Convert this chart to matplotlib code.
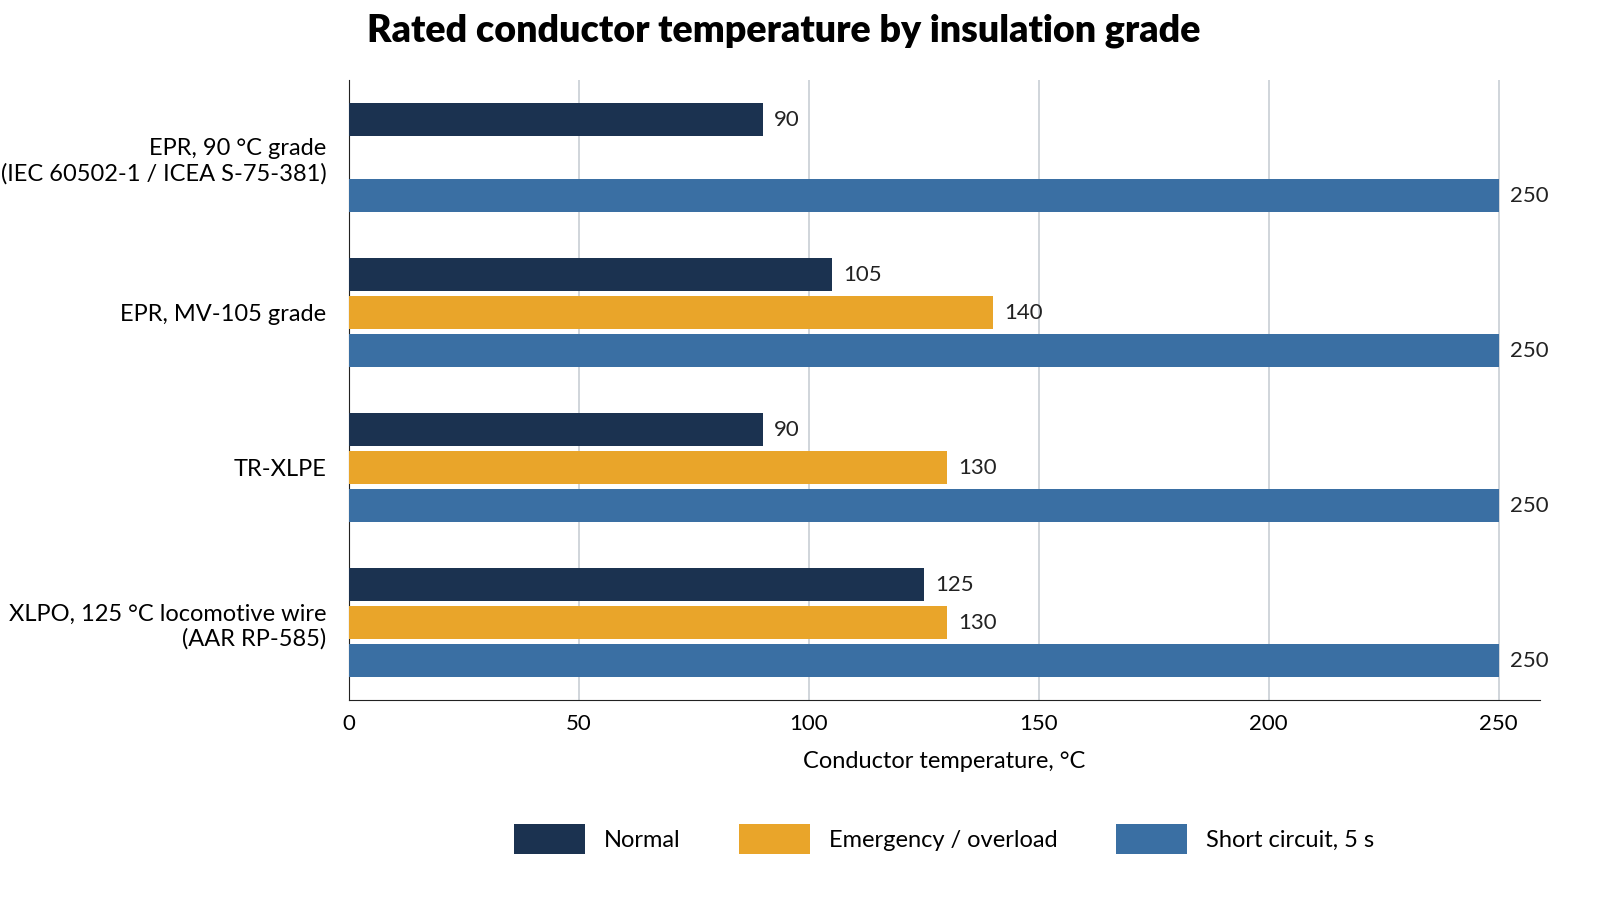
import numpy as np
import matplotlib
matplotlib.use('Agg')
import matplotlib.pyplot as plt

plt.rcParams['font.family'] = ['Lato', 'DejaVu Sans']

# Data
categories = ['EPR, 90 °C grade\n(IEC 60502-1 / ICEA S-75-381)',
              'EPR, MV-105 grade',
              'TR-XLPE',
              'XLPO, 125 °C locomotive wire\n(AAR RP-585)']
normal = [90, 105, 90, 125]
emergency = [None, 140, 130, 130]
short_circuit = [250, 250, 250, 250]
series_names = ['Normal', 'Emergency / overload', 'Short circuit, 5 s']
colors = ['#1b3250', '#e9a52a', '#3a6fa3']

fig = plt.figure(figsize=(16, 9), dpi=100)
ax = fig.add_axes([0.218, 0.222, 0.7445, 0.689])

y = np.arange(len(categories))
h = 0.21
off = 0.245
for k, (vals, name, c) in enumerate(zip([normal, emergency, short_circuit], series_names, colors)):
    ys = y + (k - 1) * off
    for yi, v in zip(ys, vals):
        if v is None:
            continue
        ax.barh(yi, v, height=h, color=c, zorder=3)
        ax.text(v + 2.5, yi, str(v), va='center', ha='left', fontsize=16, color='#222222')
    ax.barh(np.nan, 0, height=h, color=c, label=name)

ax.set_ylim(3.5, -0.5)
ax.set_xlim(0, 259)
ax.set_xticks([0, 50, 100, 150, 200, 250])
ax.set_yticks(y)
ax.set_yticklabels(categories, fontsize=17)
ax.tick_params(axis='x', labelsize=16, length=0, pad=10)
ax.tick_params(axis='y', length=0, pad=16)
ax.grid(axis='x', color='#c8ced4', linewidth=1.2, zorder=0)
for s in ['top', 'right']:
    ax.spines[s].set_visible(False)
ax.spines['left'].set_color('#222222')
ax.spines['bottom'].set_color('#222222')
ax.set_xlabel('Conductor temperature, °C', fontsize=17, labelpad=12)

fig.suptitle('Rated conductor temperature by insulation grade', fontsize=27,
             fontweight='heavy', x=0.49, y=0.985)
fig.legend(loc='center', bbox_to_anchor=(0.59, 0.068), ncol=3, frameon=False,
           fontsize=17, handlelength=3, handleheight=1.6, columnspacing=2.5)

fig.savefig('out.png')
